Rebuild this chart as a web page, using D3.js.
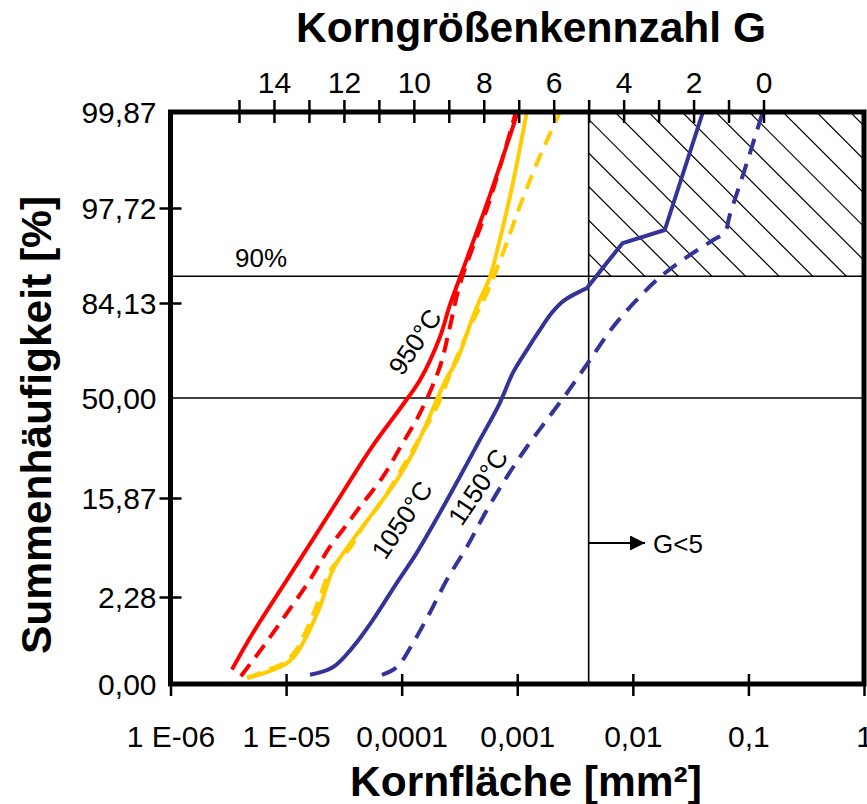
<!DOCTYPE html>
<html>
<head>
<meta charset="utf-8">
<script src="https://cdn.jsdelivr.net/npm/d3@7"></script>
<style>
body { margin: 0; background: #fff; }
text { font-family: "Liberation Sans", Arial, sans-serif; fill: #000; }
</style>
</head>
<body>
<div id="chart"></div>
<script>
// Kornfläche [mm²] vs. Summenhäufigkeit [%] (Wahrscheinlichkeitsnetz)

var area950 = [3.40e-6, 5.16e-6, 1.02e-5, 2.39e-5, 5.52e-5, 1.02e-4, 1.44e-4, 2.14e-4, 2.61e-4, 3.25e-4, 5.79e-4, 1.01e-3];
var sum950 = [0.23, 0.79, 3.4, 12.5, 31.2, 47.2, 57.5, 73.9, 83.6, 90.2, 98.35, 99.865];

var area950d = [4.06e-6, 6.30e-6, 1.02e-5, 1.61e-5, 2.39e-5, 3.23e-5, 4.35e-5, 6.87e-5, 1.02e-4, 1.44e-4, 2.14e-4, 2.61e-4, 3.18e-4, 5.79e-4, 9.72e-4];
var sum950d = [0.18, 0.50, 1.45, 3.39, 6.75, 9.8, 13.8, 21.5, 32.6, 44.0, 62.8, 77.2, 88.3, 98.13, 99.865];

var area1050 = [4.68e-6, 6.82e-6, 1.02e-5, 1.24e-5, 1.51e-5, 1.96e-5, 2.54e-5, 3.78e-5, 5.64e-5, 9.08e-5, 1.25e-4, 1.65e-4, 2.01e-4, 2.46e-4, 3.01e-4, 4.13e-4, 4.74e-4, 5.79e-4, 7.06e-4, 9.16e-4, 1.21e-3];
var sum1050 = [0.17, 0.21, 0.29, 0.41, 0.72, 1.73, 4.22, 7.74, 12.5, 20.6, 29.1, 40.1, 49.2, 58.4, 65.5, 80.3, 84.9, 89.8, 95.2, 98.8, 99.865];

var area1050d = [4.58e-6, 6.68e-6, 9.77e-6, 1.22e-5, 1.46e-5, 1.88e-5, 2.44e-5, 3.56e-5, 4.61e-5, 6.87e-5, 1.11e-4, 1.44e-4, 2.01e-4, 2.77e-4, 3.89e-4, 5.46e-4, 7.50e-4, 1.05e-3, 1.48e-3, 2.34e-3];
var sum1050d = [0.17, 0.22, 0.30, 0.45, 0.79, 1.94, 4.22, 6.61, 9.81, 15.4, 26.8, 34.8, 46.4, 62.8, 77.2, 86.5, 93.6, 97.8, 99.32, 99.865];

var area1150 = [1.61e-5, 2.54e-5, 3.78e-5, 5.64e-5, 9.08e-5, 1.35e-4, 2.14e-4, 3.18e-4, 4.74e-4, 7.06e-4, 9.16e-4, 1.21e-3, 1.57e-3, 1.99e-3, 2.58e-3, 4.00e-3, 5.73e-3, 8.18e-3, 1.89e-2, 4.04e-2];
var sum1150 = [0.19, 0.25, 0.50, 1.18, 3.17, 6.01, 12.5, 21.5, 33.7, 48.0, 60.4, 69.3, 76.3, 81.5, 84.9, 87.6, 91.9, 94.85, 96.15, 99.865];

var area1150d = [6.75e-5, 9.08e-5, 1.25e-4, 1.75e-4, 2.46e-4, 3.66e-4, 5.46e-4, 8.13e-4, 1.21e-3, 1.80e-3, 2.69e-3, 4.25e-3, 6.71e-3, 1.08e-2, 1.71e-2, 2.93e-2, 4.92e-2, 6.25e-2, 6.90e-2, 9.68e-2, 0.133];
var sum1150d = [0.19, 0.25, 0.57, 1.45, 3.39, 6.75, 13.1, 21.5, 31.2, 41.3, 52.1, 65.5, 77.2, 84.9, 89.8, 93.1, 95.16, 95.95, 97.29, 99.32, 99.865];

var xTicks = [1e-6, 1e-5, 1e-4, 1e-3, 1e-2, 1e-1, 1];
var xTickLabels = ["1 E-06", "1 E-05", "0,0001", "0,001", "0,01", "0,1", "1"];
var zTicks = [-3, -2, -1, 0, 1, 2, 3];
var yTickLabels = ["0,00", "2,28", "15,87", "50,00", "84,13", "97,72", "99,87"];
var gTicks = d3.range(0, 16);
var gLimit = 5;

var width = 867, height = 804;

// inverse normal cdf (Acklam)
function probit(p) {
    var a = [-3.969683028665376e+01, 2.209460984245205e+02, -2.759285104469687e+02, 1.383577518672690e+02, -3.066479806614716e+01, 2.506628277459239e+00];
    var b = [-5.447609879822406e+01, 1.615858368580409e+02, -1.556989798598866e+02, 6.680131188771972e+01, -1.328068155288572e+01];
    var c = [-7.784894002430293e-03, -3.223964580411365e-01, -2.400758277161838e+00, -2.549671010229658e+00, 4.374587099947698e+00, 2.938163982698783e+00];
    var d = [7.784695709041462e-03, 3.224671290700398e-01, 2.445134137142996e+00, 3.754408661907416e+00];
    var plow = 0.02425, q, r;
    if (p < plow) {
        q = Math.sqrt(-2 * Math.log(p));
        return (((((c[0] * q + c[1]) * q + c[2]) * q + c[3]) * q + c[4]) * q + c[5]) /
            ((((d[0] * q + d[1]) * q + d[2]) * q + d[3]) * q + 1);
    }
    if (p <= 1 - plow) {
        q = p - 0.5;
        r = q * q;
        return (((((a[0] * r + a[1]) * r + a[2]) * r + a[3]) * r + a[4]) * r + a[5]) * q /
            (((((b[0] * r + b[1]) * r + b[2]) * r + b[3]) * r + b[4]) * r + 1);
    }
    q = Math.sqrt(-2 * Math.log(1 - p));
    return -(((((c[0] * q + c[1]) * q + c[2]) * q + c[3]) * q + c[4]) * q + c[5]) /
        ((((d[0] * q + d[1]) * q + d[2]) * q + d[3]) * q + 1);
}

var x = d3.scaleLog().domain([1e-6, 1]).range([170.5, 864]);
var z = d3.scaleLinear().domain(zTicks).range([684, 597, 498, 398, 303, 208, 112]);
var y = function (p) { return z(probit(p / 100)); };
var g = d3.scaleLinear().domain([0, 15]).range([763.5, 239]);

var plotLeft = x.range()[0], plotRight = x.range()[1];
var plotTop = z(3), plotBottom = z(-3);

// kink: index from which the curve is drawn with straight segments
var series = [
    { area: area950, sum: sum950, color: "#ff0000", dash: null, kink: null },
    { area: area950d, sum: sum950d, color: "#ff0000", dash: "15,9", kink: null },
    { area: area1050d, sum: sum1050d, color: "#ffcc00", dash: "15,9", kink: null },
    { area: area1050, sum: sum1050, color: "#ffcc00", dash: null, kink: null },
    { area: area1150, sum: sum1150, color: "#333399", dash: null, kink: 15 },
    { area: area1150d, sum: sum1150d, color: "#333399", dash: "16,10", kink: null }
];

var smoothLine = d3.line()
    .x(d => x(d[0]))
    .y(d => y(d[1]))
    .curve(d3.curveCatmullRom.alpha(0.5));
var straightLine = d3.line()
    .x(d => x(d[0]))
    .y(d => y(d[1]));

function seriesPath(s) {
    var pts = s.area.map((a, i) => [a, s.sum[i]]);
    if (s.kink === null) return smoothLine(pts);
    return smoothLine(pts.slice(0, s.kink + 1)) + straightLine(pts.slice(s.kink)).replace(/^M/, "L");
}

var svg = d3.select("#chart").append("svg")
    .attr("width", width)
    .attr("height", height);

var defs = svg.append("defs");

defs.append("clipPath").attr("id", "plot")
    .append("rect")
    .attr("x", plotLeft).attr("y", plotTop)
    .attr("width", plotRight - plotLeft).attr("height", plotBottom - plotTop);

defs.append("clipPath").attr("id", "hatch")
    .append("rect")
    .attr("x", g(gLimit)).attr("y", plotTop)
    .attr("width", plotRight - g(gLimit)).attr("height", y(90) - plotTop);

defs.append("marker")
    .attr("id", "arrow")
    .attr("viewBox", "0 0 10 10")
    .attr("refX", 10).attr("refY", 5)
    .attr("markerWidth", 16).attr("markerHeight", 15)
    .attr("markerUnits", "userSpaceOnUse")
    .attr("orient", "auto")
    .append("path").attr("d", "M0,0L10,5L0,10Z").attr("fill", "#000");

// hatched area G<5, above 90%
var hx = g(gLimit), hy = plotTop + 41;
svg.append("g").attr("clip-path", "url(#hatch)")
    .attr("stroke", "#000").attr("stroke-width", 1.2)
    .selectAll("line")
    .data(d3.range(-8, 12))
    .join("line")
    .attr("x1", k => hx + k * 33.6 - 200)
    .attr("y1", hy - 200)
    .attr("x2", k => hx + k * 33.6 + 300)
    .attr("y2", hy + 300);

// reference lines
svg.append("g").attr("stroke", "#000").attr("stroke-width", 1.6)
    .selectAll("line")
    .data([50, 90])
    .join("line")
    .attr("x1", plotLeft).attr("x2", plotRight)
    .attr("y1", d => y(d)).attr("y2", d => y(d));

svg.append("line")
    .attr("x1", g(gLimit)).attr("x2", g(gLimit))
    .attr("y1", plotTop).attr("y2", plotBottom)
    .attr("stroke", "#000").attr("stroke-width", 1.6);

// curves
svg.append("g").attr("clip-path", "url(#plot)")
    .selectAll("path")
    .data(series)
    .join("path")
    .attr("d", seriesPath)
    .attr("fill", "none")
    .attr("stroke", s => s.color)
    .attr("stroke-width", 4)
    .attr("stroke-linejoin", "round")
    .attr("stroke-dasharray", s => s.dash);

// frame
svg.append("rect")
    .attr("x", plotLeft).attr("y", plotTop)
    .attr("width", plotRight - plotLeft).attr("height", plotBottom - plotTop)
    .attr("fill", "none").attr("stroke", "#000").attr("stroke-width", 5);

// bottom axis
var xAxis = svg.append("g")
    .attr("transform", "translate(0," + plotBottom + ")")
    .call(d3.axisBottom(x).tickValues(xTicks).tickFormat((d, i) => xTickLabels[i]));
xAxis.select(".domain").remove();
xAxis.selectAll(".tick line").attr("y1", -10).attr("y2", 12).attr("stroke-width", 2.5);
xAxis.selectAll(".tick text").attr("y", 63).attr("dy", null)
    .attr("font-size", 30).attr("font-family", null);

// top axis (grain size number G)
var gAxis = svg.append("g")
    .attr("transform", "translate(0," + plotTop + ")")
    .call(d3.axisTop(g).tickValues(gTicks).tickFormat(d => d % 2 === 0 ? d : ""));
gAxis.select(".domain").remove();
gAxis.selectAll(".tick line").attr("y1", -12).attr("y2", 11).attr("stroke-width", 2.5);
gAxis.selectAll(".tick text").attr("y", -19).attr("dy", null)
    .attr("font-size", 30).attr("font-family", null);

// left axis
var yAxis = svg.append("g")
    .attr("transform", "translate(" + plotLeft + ",0)")
    .call(d3.axisLeft(z).tickValues(zTicks).tickFormat((d, i) => yTickLabels[i]));
yAxis.select(".domain").remove();
yAxis.selectAll(".tick line").attr("x1", -11).attr("x2", 11).attr("stroke-width", 2.5)
    .filter(d => d === -3 || d === 3 || d === 0).remove();
yAxis.selectAll(".tick text").attr("x", -14).attr("dy", "0.36em")
    .attr("font-size", 30).attr("font-family", null);

// titles
svg.append("text")
    .attr("x", 531).attr("y", 42)
    .attr("text-anchor", "middle")
    .attr("font-size", 42.5).attr("font-weight", "bold")
    .text("Korngrößenkennzahl G");

svg.append("text")
    .attr("x", 526).attr("y", 796)
    .attr("text-anchor", "middle")
    .attr("font-size", 42.5).attr("font-weight", "bold")
    .text("Kornfläche [mm²]");

svg.append("text")
    .attr("transform", "translate(51,425) rotate(-90)")
    .attr("text-anchor", "middle")
    .attr("font-size", 42.5).attr("font-weight", "bold")
    .text("Summenhäufigkeit [%]");

// annotations
svg.append("text")
    .attr("x", 235).attr("y", y(90) - 9)
    .attr("font-size", 26)
    .text("90%");

var labels = [
    { t: "950°C", cx: 415, cy: 342 },
    { t: "1050°C", cx: 402, cy: 520 },
    { t: "1150°C", cx: 478, cy: 487 }
];
svg.append("g").selectAll("text")
    .data(labels)
    .join("text")
    .attr("transform", d => "translate(" + d.cx + "," + d.cy + ") rotate(-56)")
    .attr("text-anchor", "middle")
    .attr("dominant-baseline", "central")
    .attr("font-size", 26)
    .text(d => d.t);

svg.append("line")
    .attr("x1", g(gLimit)).attr("x2", 645)
    .attr("y1", 543).attr("y2", 543)
    .attr("stroke", "#000").attr("stroke-width", 2)
    .attr("marker-end", "url(#arrow)");

svg.append("text")
    .attr("x", 653).attr("y", 553)
    .attr("font-size", 26)
    .text("G<" + gLimit);
</script>
</body>
</html>
